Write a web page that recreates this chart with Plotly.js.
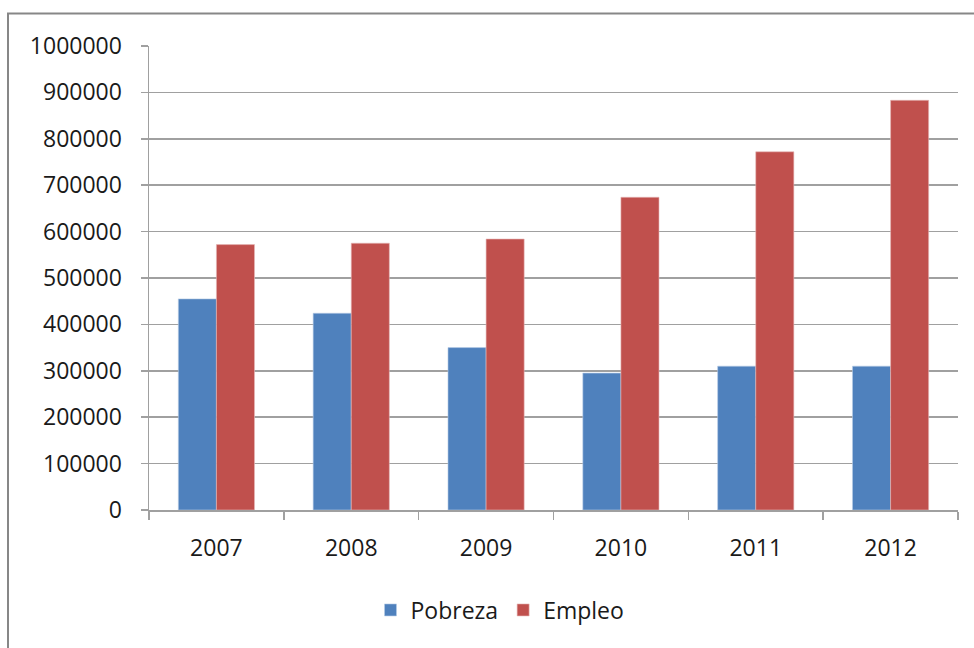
<!DOCTYPE html>
<html>
<head>
<meta charset="utf-8">
<script src="https://cdn.plot.ly/plotly-3.0.1.min.js"></script>
<style>
  html, body { margin: 0; padding: 0; background: #ffffff; }
  #chart { width: 974px; height: 648px; }
</style>
</head>
<body>
<div id="chart"></div>
<script>
const years = ["2007", "2008", "2009", "2010", "2011", "2012"];
const pobreza = [455000, 424000, 350000, 295000, 310000, 310000];
const empleo = [572000, 575000, 584000, 674000, 772000, 883000];
const seriesNames = ["Pobreza", "Empleo"];
const yTicks = [0, 100000, 200000, 300000, 400000, 500000, 600000, 700000, 800000, 900000, 1000000];

const FONT = "'Open Sans', 'Noto Sans', 'Liberation Sans', sans-serif";
const GRID = "#A0A0A0";

const traces = [
  {
    type: "bar", name: seriesNames[0], x: years, y: pobreza,
    marker: { color: "#4F81BD", line: { color: "#B9CDE5", width: 0.6 } },
    hoverinfo: "x+y"
  },
  {
    type: "bar", name: seriesNames[1], x: years, y: empleo,
    marker: { color: "#C0504D", line: { color: "#E6B9B8", width: 0.6 } },
    hoverinfo: "x+y"
  }
];

const L = 149, R = 16, T = 46, B = 138;
const W = 974 - L - R, H = 648 - T - B;
const px = v => (v - L) / W;
const py = v => (648 - B - v) / H;

const layout = {
  width: 974, height: 648,
  margin: { l: L, r: R, t: T, b: B, pad: 0 },
  paper_bgcolor: "#ffffff", plot_bgcolor: "#ffffff",
  font: { family: FONT, size: 23, color: "#1a1a1a" },
  barmode: "group", bargap: 0.435, bargroupgap: 0,
  showlegend: true,
  legend: {
    orientation: "h", x: px(500), xanchor: "center", y: py(610), yanchor: "middle",
    font: { family: FONT, size: 23, color: "#1a1a1a" },
    itemwidth: 30, traceorder: "normal"
  },
  xaxis: {
    type: "category", showgrid: false, zeroline: false,
    showline: true, linecolor: GRID, linewidth: 1.5,
    ticks: "outside", tickson: "boundaries", ticklen: 8, tickcolor: GRID, tickwidth: 1.5,
    ticklabelstandoff: 17,
    tickfont: { family: FONT, size: 23, color: "#1a1a1a" }
  },
  yaxis: {
    range: [0, 1000000], tickvals: yTicks, tickformat: "d",
    showgrid: true, gridcolor: GRID, gridwidth: 1.5,
    zeroline: false,
    showline: true, linecolor: GRID, linewidth: 1.5,
    ticks: "outside", ticklen: 7, tickcolor: GRID, tickwidth: 1.5,
    ticklabelstandoff: 14,
    tickfont: { family: FONT, size: 23, color: "#1a1a1a" }
  },
  shapes: [
    {
      type: "rect", xref: "paper", yref: "paper",
      x0: px(8), x1: px(990), y0: py(670), y1: py(13.5),
      line: { color: "#878787", width: 2 }, fillcolor: "rgba(0,0,0,0)", layer: "below"
    }
  ]
};

Plotly.newPlot("chart", traces, layout, { staticPlot: true, displayModeBar: false });
</script>
</body>
</html>
